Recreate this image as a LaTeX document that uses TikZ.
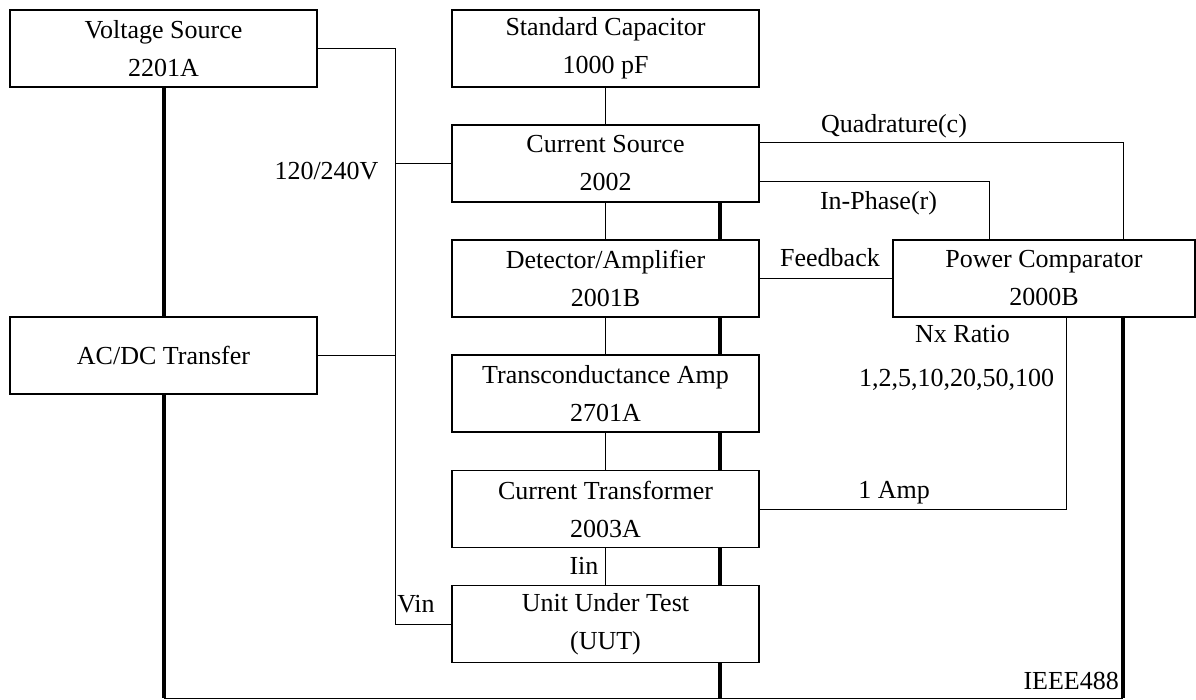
\documentclass[tikz,border=0pt]{standalone}
\usepackage{fontspec}
\setmainfont{Liberation Serif}

\begin{document}
\begin{tikzpicture}[x=1pt,y=-1pt,
  box/.style={draw, line width=1.3pt, minimum width=307pt, minimum height=77pt, inner sep=0pt, align=center, font=\fontsize{26}{38}\selectfont},
  lbl/.style={inner sep=0pt, anchor=base, font=\fontsize{26}{30}\selectfont},
  wire/.style={line width=1pt},
  bus/.style={line width=4pt}]
\useasboundingbox (0,0) rectangle (1196,700);
\node[box] (vs) at (163.5,48.5) {Voltage Source\\2201A};
\node[box] (acdc) at (163.5,355.5) {AC/DC Transfer};
\node[box] (cap) at (605.5,48.5) {Standard Capacitor\\1000 pF};
\node[box] (cs) at (605.5,163.5) {Current Source\\2002};
\node[box] (det) at (605.5,278.5) {Detector/Amplifier\\2001B};
\node[box] (tca) at (605.5,393.5) {Transconductance Amp\\2701A};
\node[box] (ct) at (605.5,509) {Current Transformer\\2003A};
\node[box] (uut) at (605.5,624) {Unit Under Test\\(UUT)};
\node[box, minimum width=302pt] (pc) at (1044,278.5) {Power Comparator\\2000B};
\coordinate (vx) at (395,0);
\coordinate (bL) at (163.5,0);
\coordinate (bC) at (720,0);
\coordinate (bR) at (1123,0);
\coordinate (ipx) at (989,0);
\coordinate (nx) at (1066,0);
\coordinate (bot) at (0,698);
\draw[wire] (vs.east) -| (vx |- uut.west) -- (uut.west);
\draw[wire] (vx |- cs.west) -- (cs.west);
\draw[wire] (acdc.east) -- (vx |- acdc.east);
\draw[wire] (cap) -- (cs);
\foreach \a/\b in {cs/det, det/tca, tca/ct, ct/uut} {
  \draw[wire] (\a) -- (\b);
  \draw[bus] (\a.south -| bC) -- (\b.north -| bC);
}
\draw[wire] ([yshift=20.5pt]cs.east) -| (pc.north -| bR);
\draw[wire] ([yshift=-18.5pt]cs.east) -| (pc.north -| ipx);
\draw[wire] (det.east) -- (pc.west);
\draw[wire] (pc.south -| nx) |- (ct.east);
\draw[bus] (vs) -- (acdc);
\draw[bus] (acdc.south) -- (bL |- bot);
\draw[bus] (uut.south -| bC) -- (bC |- bot);
\draw[bus] (pc.south -| bR) -- (bR |- bot);
\draw[wire] (bL |- bot) -- (bR |- bot);
\node[lbl] (l120) at (326.5,180) {120/240V};
\node[lbl] (lquad) at (894,133) {Quadrature(c)};
\node[lbl] (lphase) at (878.5,210) {In-Phase(r)};
\node[lbl] (lfb) at (830,266.5) {Feedback};
\node[lbl] (lnx) at (962.5,343) {Nx Ratio};
\node[lbl] (lratio) at (956.5,386.5) {1,2,5,10,20,50,100};
\node[lbl] (lamp) at (894,498) {1 Amp};
\node[lbl] (lvin) at (416,612.5) {Vin};
\node[lbl] (liin) at (584,574) {Iin};
\node[lbl, anchor=base east] (lieee) at (1119,689) {IEEE488};
\end{tikzpicture}
\end{document}
